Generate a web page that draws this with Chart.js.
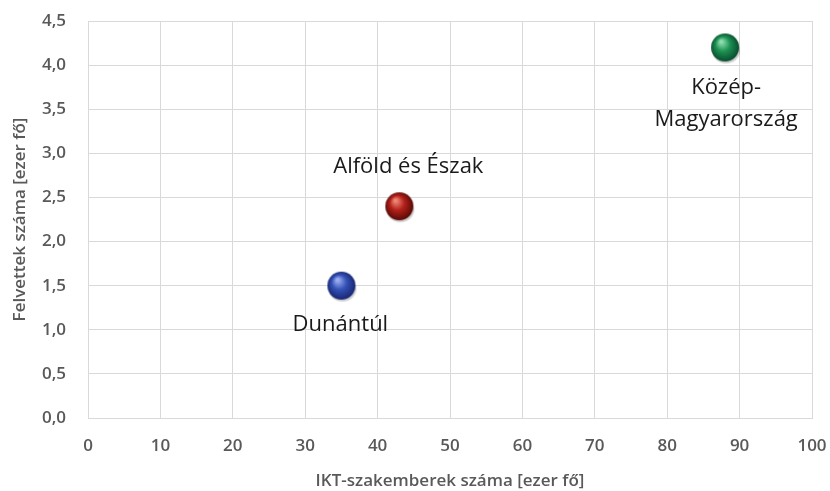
<!DOCTYPE html>
<html>
<head>
    <title>IKT-szakemberek és felvettek</title>
    <script src="https://cdn.jsdelivr.net/npm/chart.js"></script>
    <style>
        body { margin: 0; background: #fff; }
        #wrap { width: 830px; height: 491px; }
    </style>
</head>
<body>
    <div id="wrap"><canvas id="chart"></canvas></div>

    <script>
        const regions = ['Dunántúl', 'Alföld és Észak', 'Közép-Magyarország'];
        const regionLines = [['Dunántúl'], ['Alföld és Észak'], ['Közép-', 'Magyarország']];
        const ictExperts = [35, 43, 88];     // ezer fő
        const admitted = [1.5, 2.4, 4.2];    // ezer fő
        const sphereColors = [
            { hi: '#9db0f0', mid: '#3552b8', dark: '#15226a' },
            { hi: '#f08a78', mid: '#b4201a', dark: '#4e0804' },
            { hi: '#8fe0b0', mid: '#1d9152', dark: '#07462a' }
        ];

        // shaded ball used as point style
        function sphere(c) {
            const cv = document.createElement('canvas');
            cv.width = 36; cv.height = 36;
            const g = cv.getContext('2d');
            // soft shadow
            g.fillStyle = 'rgba(0,0,0,0.18)';
            g.beginPath();
            g.ellipse(19, 21, 14, 13, 0, 0, Math.PI * 2);
            g.fill();
            const grad = g.createRadialGradient(14, 12, 1, 18, 18, 15);
            grad.addColorStop(0, c.hi);
            grad.addColorStop(0.45, c.mid);
            grad.addColorStop(1, c.dark);
            g.fillStyle = grad;
            g.beginPath();
            g.arc(18, 18, 14, 0, Math.PI * 2);
            g.fill();
            return cv;
        }

        const labelOffsets = [[-1, 39], [9, -40], [1, 40]];

        const pointLabels = {
            id: 'pointLabels',
            afterDatasetsDraw(chart) {
                const ctx = chart.ctx;
                const meta = chart.getDatasetMeta(0);
                ctx.save();
                ctx.font = '22px "Open Sans"';
                ctx.fillStyle = '#1a1a1a';
                ctx.textAlign = 'center';
                ctx.textBaseline = 'middle';
                meta.data.forEach((pt, i) => {
                    const [dx, dy] = labelOffsets[i];
                    regionLines[i].forEach((line, j) => {
                        ctx.fillText(line, pt.x + dx, pt.y + dy + j * 32);
                    });
                });
                ctx.restore();
            }
        };

        const gridColor = '#d9d9d9';
        const tickFont = { family: 'Open Sans', size: 17, weight: '600' };
        const titleFont = { family: 'Open Sans', size: 17, weight: '600' };

        new Chart(document.getElementById('chart'), {
            type: 'scatter',
            data: {
                labels: regions,
                datasets: [{
                    label: 'Régiók',
                    data: ictExperts.map((x, i) => ({ x: x, y: admitted[i] })),
                    pointStyle: sphereColors.map(sphere),
                    pointRadius: 14,
                    pointHoverRadius: 14
                }]
            },
            options: {
                responsive: true,
                maintainAspectRatio: false,
                animation: false,
                layout: { padding: { top: 21, right: 18, left: 6, bottom: 0 } },
                plugins: {
                    legend: { display: false },
                    tooltip: { enabled: false }
                },
                scales: {
                    x: {
                        min: 0, max: 100,
                        ticks: { stepSize: 10, color: '#595959', font: tickFont, padding: 18 },
                        grid: { color: gridColor, drawTicks: false },
                        border: { color: gridColor },
                        title: { display: true, text: 'IKT-szakemberek száma [ezer fő]', color: '#595959', font: titleFont, padding: { top: 14, bottom: 0 } },
                        afterFit(scale) {
                            scale.height = 73;
                            scale.paddingLeft = 0;
                            scale.paddingRight = 0;
                        }
                    },
                    y: {
                        min: 0, max: 4.5,
                        ticks: {
                            stepSize: 0.5, color: '#595959', font: tickFont, padding: 22,
                            callback: v => v.toFixed(1).replace('.', ',')
                        },
                        grid: { color: gridColor, drawTicks: false },
                        border: { color: gridColor },
                        title: { display: true, text: 'Felvettek száma [ezer fő]', color: '#595959', font: titleFont, padding: { bottom: 4 } },
                        afterFit(scale) {
                            scale.width = 82;
                            scale.paddingTop = 0;
                            scale.paddingBottom = 0;
                        }
                    }
                }
            },
            plugins: [pointLabels]
        });
    </script>
</body>
</html>
